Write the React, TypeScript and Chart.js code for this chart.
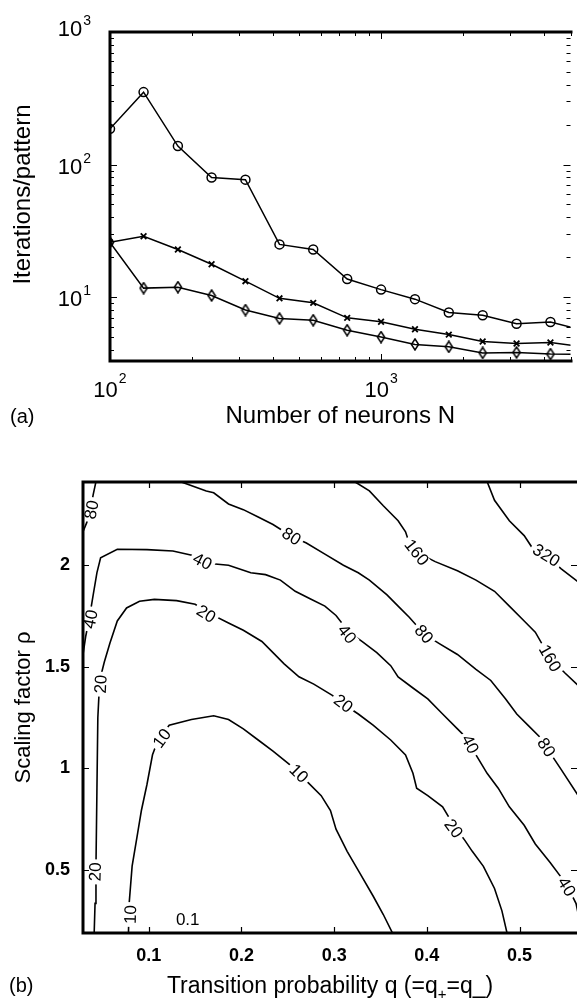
import React, { useEffect, useRef } from 'react';
import { Chart, registerables } from 'chart.js';

Chart.register(...registerables);

const FONT = "'Liberation Sans', Arial, Helvetica, sans-serif";

// ---------- Panel (a) data ----------
const neurons = [100, 133, 178, 237, 316, 422, 562, 750, 1000, 1334, 1778, 2371, 3162, 4217, 5623];
const itersCircle = [186, 352, 138, 80, 77, 25, 22.9, 13.7, 11.4, 9.66, 7.67, 7.3, 6.3, 6.5, 5.6];
const itersCross = [25.9, 28.8, 22.9, 17.7, 13.2, 9.8, 9.06, 6.98, 6.52, 5.73, 5.22, 4.63, 4.47, 4.55, 4.2];
const itersDiamond = [25.9, 11.7, 11.9, 10.3, 8.0, 6.9, 6.7, 5.63, 5.0, 4.4, 4.22, 3.8, 3.83, 3.72, 3.7];
const xPowTicks = [2, 3];
const yPowTicks = [1, 2, 3];

// ---------- Panel (b) data: contour lines as [q, rho] ----------
const contour10: [number, number][] = [
  [0.078, 0.18], [0.0788, 0.336], [0.082, 0.519], [0.088, 0.683], [0.092, 0.793], [0.098, 0.921],
  [0.104, 1.067], [0.11, 1.14], [0.122, 1.213], [0.146, 1.241], [0.17, 1.259], [0.186, 1.241],
  [0.202, 1.195], [0.218, 1.14], [0.234, 1.085], [0.254, 1.012], [0.27, 0.939], [0.286, 0.866],
  [0.296, 0.793], [0.302, 0.701], [0.314, 0.592], [0.328, 0.482], [0.342, 0.372], [0.353, 0.281],
  [0.364, 0.18],
];
const contour20: [number, number][] = [
  [0.041, 0.18], [0.042, 0.336], [0.043, 0.519], [0.044, 0.884], [0.045, 1.25], [0.047, 1.433],
  [0.052, 1.524], [0.058, 1.616], [0.066, 1.726], [0.076, 1.79], [0.09, 1.823], [0.106, 1.832],
  [0.13, 1.826], [0.15, 1.808], [0.166, 1.762], [0.186, 1.716], [0.202, 1.68], [0.222, 1.625],
  [0.234, 1.57], [0.246, 1.515], [0.262, 1.451], [0.278, 1.415], [0.298, 1.36], [0.314, 1.305],
  [0.326, 1.268], [0.342, 1.213], [0.361, 1.14], [0.377, 1.067], [0.385, 0.976], [0.389, 0.903],
  [0.401, 0.866], [0.417, 0.811], [0.429, 0.72], [0.441, 0.646], [0.449, 0.592], [0.461, 0.518],
  [0.473, 0.409], [0.481, 0.299], [0.487, 0.18],
];
const contour40: [number, number][] = [
  [0.027, 1.53], [0.029, 1.561], [0.032, 1.652], [0.036, 1.744], [0.04, 1.854], [0.044, 1.963],
  [0.048, 2.037], [0.066, 2.079], [0.098, 2.077], [0.126, 2.07], [0.15, 2.046], [0.166, 2.009],
  [0.186, 2.0], [0.198, 1.982], [0.21, 1.963], [0.226, 1.954], [0.242, 1.927], [0.258, 1.872],
  [0.274, 1.835], [0.29, 1.799], [0.302, 1.753], [0.316, 1.671], [0.33, 1.625], [0.346, 1.57],
  [0.361, 1.506], [0.369, 1.451], [0.385, 1.396], [0.401, 1.342], [0.417, 1.268], [0.433, 1.195],
  [0.445, 1.14], [0.453, 1.067], [0.465, 0.976], [0.477, 0.903], [0.489, 0.811], [0.505, 0.72],
  [0.517, 0.628], [0.533, 0.537], [0.545, 0.464], [0.555, 0.39], [0.561, 0.335], [0.566, 0.226],
];
const contour80Left: [number, number][] = [
  [0.044, 2.45], [0.043, 2.412], [0.04, 2.348], [0.037, 2.274], [0.033, 2.21], [0.029, 2.165], [0.026, 2.128],
];
const contour80: [number, number][] = [
  [0.132, 2.45], [0.134, 2.412], [0.162, 2.366], [0.17, 2.357], [0.186, 2.302], [0.202, 2.274],
  [0.218, 2.238], [0.234, 2.201], [0.254, 2.143], [0.27, 2.11], [0.29, 2.055], [0.31, 2.0],
  [0.326, 1.963], [0.338, 1.927], [0.357, 1.854], [0.369, 1.799], [0.381, 1.744], [0.397, 1.662],
  [0.413, 1.616], [0.433, 1.561], [0.453, 1.488], [0.469, 1.433], [0.485, 1.342], [0.497, 1.268],
  [0.509, 1.213], [0.521, 1.159], [0.529, 1.104], [0.545, 0.994], [0.566, 0.848],
];
const contour160: [number, number][] = [
  [0.318, 2.45], [0.322, 2.412], [0.338, 2.366], [0.353, 2.293], [0.369, 2.219], [0.377, 2.165],
  [0.381, 2.11], [0.389, 2.064], [0.409, 2.018], [0.433, 1.973], [0.453, 1.927], [0.473, 1.872],
  [0.489, 1.799], [0.505, 1.726], [0.517, 1.671], [0.533, 1.543], [0.549, 1.47], [0.566, 1.396],
];
const contour320: [number, number][] = [
  [0.463, 2.45], [0.465, 2.412], [0.473, 2.32], [0.489, 2.219], [0.505, 2.146], [0.513, 2.091],
  [0.529, 2.046], [0.545, 1.982], [0.566, 1.909],
];
// contour label: [level, q, rho]
const contourLabels: [number, number, number][] = [
  [80, 0.038, 2.274], [80, 0.254, 2.143], [80, 0.397, 1.662], [80, 0.529, 1.104],
  [160, 0.389, 2.064], [160, 0.533, 1.543],
  [320, 0.529, 2.05],
  [40, 0.037, 1.735], [40, 0.158, 2.02], [40, 0.314, 1.662], [40, 0.447, 1.12], [40, 0.551, 0.418],
  [20, 0.162, 1.762], [20, 0.048, 1.415], [20, 0.31, 1.32], [20, 0.429, 0.705], [20, 0.042, 0.491],
  [10, 0.114, 1.149], [10, 0.262, 0.976], [10, 0.08, 0.281],
];
const qTicks = [0.1, 0.2, 0.3, 0.4, 0.5];
const rhoTicks = [0.5, 1, 1.5, 2];
const annotation: [string, number, number] = ['0.1', 0.142, 0.253];

function diamondCanvas(): HTMLCanvasElement {
  const c = document.createElement('canvas');
  c.width = 10;
  c.height = 13;
  const g = c.getContext('2d')!;
  g.strokeStyle = '#000';
  g.lineWidth = 1.5;
  g.beginPath();
  g.moveTo(5, 1);
  g.lineTo(8.6, 6.5);
  g.lineTo(5, 12);
  g.lineTo(1.4, 6.5);
  g.closePath();
  g.stroke();
  return c;
}

function drawPow(ctx: CanvasRenderingContext2D, exp: string, x: number, baseY: number, align: 'center' | 'right', supDy: number) {
  ctx.font = `22px ${FONT}`;
  const w1 = ctx.measureText('10').width;
  ctx.font = `14px ${FONT}`;
  const w2 = ctx.measureText(exp).width;
  const total = w1 + 1 + w2;
  const left = align === 'center' ? x - total / 2 : x - total;
  ctx.textAlign = 'left';
  ctx.textBaseline = 'alphabetic';
  ctx.font = `22px ${FONT}`;
  ctx.fillText('10', left, baseY);
  ctx.font = `14px ${FONT}`;
  ctx.fillText(exp, left + w1 + 1, baseY - supDy);
}

const panelA = {
  id: 'panelA',
  afterDraw(chart: any) {
    const { ctx, chartArea: ca, scales } = chart;
    const xs = scales.x;
    const ys = scales.y;
    ctx.save();
    ctx.strokeStyle = '#000';
    ctx.fillStyle = '#000';
    // minor + major ticks (inward)
    ctx.lineWidth = 1;
    for (let d = 100; d <= 1000; d *= 10) {
      for (let m = 1; m <= 9; m++) {
        const v = d * m;
        if (v < 100 || v > 5000) continue;
        const px = Math.round(xs.getPixelForValue(v)) + 0.5;
        const len = m === 1 ? 7 : 4;
        ctx.beginPath();
        ctx.moveTo(px, ca.bottom);
        ctx.lineTo(px, ca.bottom - len);
        ctx.moveTo(px, ca.top);
        ctx.lineTo(px, ca.top + len);
        ctx.stroke();
      }
    }
    for (let d = 1; d <= 1000; d *= 10) {
      for (let m = 1; m <= 9; m++) {
        const v = d * m;
        if (v < 3.3 || v > 1000) continue;
        const py = Math.round(ys.getPixelForValue(v)) + 0.5;
        const len = m === 1 ? 7 : 4;
        ctx.beginPath();
        ctx.moveTo(ca.left, py);
        ctx.lineTo(ca.left + len, py);
        ctx.moveTo(ca.right, py);
        ctx.lineTo(ca.right - len, py);
        ctx.stroke();
      }
    }
    // frame
    ctx.lineWidth = 3;
    ctx.beginPath();
    ctx.moveTo(ca.right + 2, ca.top);
    ctx.lineTo(ca.left, ca.top);
    ctx.lineTo(ca.left, ca.bottom);
    ctx.lineTo(ca.right + 2, ca.bottom);
    ctx.stroke();
    // tick labels
    for (const p of xPowTicks) {
      const px = xs.getPixelForValue(Math.pow(10, p));
      drawPow(ctx, String(p), px, ca.bottom + 36, 'center', 14);
    }
    for (const p of yPowTicks) {
      const py = ys.getPixelForValue(Math.pow(10, p));
      const shift = p === 3 ? -5 : 0;
      drawPow(ctx, String(p), ca.left - 19, py + 9 + shift, 'right', 11);
    }
    // axis titles
    ctx.font = `24px ${FONT}`;
    ctx.textAlign = 'center';
    ctx.textBaseline = 'alphabetic';
    ctx.fillText('Number of neurons N', (ca.left + ca.right) / 2, 423);
    ctx.save();
    ctx.translate(30, (ca.top + ca.bottom) / 2 - 2);
    ctx.rotate(-Math.PI / 2);
    ctx.fillText('Iterations/pattern', 0, 0);
    ctx.restore();
    ctx.font = `20px ${FONT}`;
    ctx.textAlign = 'left';
    ctx.fillText('(a)', 10, 423);
    ctx.restore();
  },
};

function segAngle(pts: { x: number; y: number }[], px: number, py: number) {
  let best = Infinity;
  let ang = 0;
  for (let i = 0; i < pts.length - 1; i++) {
    const a = pts[i];
    const b = pts[i + 1];
    const dx = b.x - a.x;
    const dy = b.y - a.y;
    const len2 = dx * dx + dy * dy || 1;
    let t = ((px - a.x) * dx + (py - a.y) * dy) / len2;
    t = Math.max(0, Math.min(1, t));
    const cx = a.x + t * dx;
    const cy = a.y + t * dy;
    const d = (px - cx) ** 2 + (py - cy) ** 2;
    if (d < best) {
      best = d;
      ang = Math.atan2(dy, dx);
    }
  }
  if (ang > Math.PI / 2) ang -= Math.PI;
  if (ang < -Math.PI / 2) ang += Math.PI;
  return { ang, dist: best };
}

const panelB = {
  id: 'panelB',
  afterDraw(chart: any) {
    const { ctx, chartArea: ca, scales } = chart;
    const xs = scales.x;
    const ys = scales.y;
    ctx.save();
    // contour labels
    ctx.save();
    ctx.beginPath();
    ctx.rect(ca.left, ca.top, ca.right - ca.left, ca.bottom - ca.top);
    ctx.clip();
    for (const [lvl, q, r] of contourLabels) {
      const px = xs.getPixelForValue(q);
      const py = ys.getPixelForValue(r);
      let ang = 0;
      let best = Infinity;
      chart.data.datasets.forEach((ds: any, i: number) => {
        if (ds.level !== lvl) return;
        const pts = chart.getDatasetMeta(i).data.map((e: any) => ({ x: e.x, y: e.y }));
        const res = segAngle(pts, px, py);
        if (res.dist < best) {
          best = res.dist;
          ang = res.ang;
        }
      });
      const txt = String(lvl);
      ctx.font = `17px ${FONT}`;
      const w = ctx.measureText(txt).width;
      ctx.save();
      ctx.translate(px, py);
      ctx.rotate(ang);
      ctx.fillStyle = '#fff';
      ctx.fillRect(-w / 2 - 3, -6, w + 6, 12);
      ctx.fillStyle = '#000';
      ctx.textAlign = 'center';
      ctx.textBaseline = 'middle';
      ctx.fillText(txt, 0, 1);
      ctx.restore();
    }
    // annotation
    ctx.font = `17px ${FONT}`;
    ctx.fillStyle = '#000';
    ctx.textAlign = 'center';
    ctx.textBaseline = 'middle';
    ctx.fillText(annotation[0], xs.getPixelForValue(annotation[1]), ys.getPixelForValue(annotation[2]));
    ctx.restore();

    // ticks
    ctx.strokeStyle = '#000';
    ctx.fillStyle = '#000';
    ctx.lineWidth = 1.2;
    for (const q of qTicks) {
      const px = Math.round(xs.getPixelForValue(q)) + 0.5;
      ctx.beginPath();
      ctx.moveTo(px, ca.bottom);
      ctx.lineTo(px, ca.bottom - 6);
      ctx.moveTo(px, ca.top);
      ctx.lineTo(px, ca.top + 6);
      ctx.stroke();
    }
    for (const r of rhoTicks) {
      const py = Math.round(ys.getPixelForValue(r)) + 0.5;
      ctx.beginPath();
      ctx.moveTo(ca.left, py);
      ctx.lineTo(ca.left + 6, py);
      ctx.moveTo(ca.right, py);
      ctx.lineTo(ca.right - 6, py);
      ctx.stroke();
    }
    // frame
    ctx.lineWidth = 3;
    ctx.beginPath();
    ctx.moveTo(ca.right + 2, ca.top);
    ctx.lineTo(ca.left, ca.top);
    ctx.lineTo(ca.left, ca.bottom);
    ctx.lineTo(ca.right + 2, ca.bottom);
    ctx.stroke();
    // tick labels
    ctx.font = `bold 18px ${FONT}`;
    ctx.textAlign = 'center';
    ctx.textBaseline = 'middle';
    for (const q of qTicks) {
      ctx.fillText(String(q), xs.getPixelForValue(q), ca.bottom + 23);
    }
    ctx.textAlign = 'right';
    for (const r of rhoTicks) {
      ctx.fillText(String(r), ca.left - 13, ys.getPixelForValue(r));
    }
    // y title
    ctx.font = `22px ${FONT}`;
    ctx.textAlign = 'center';
    ctx.textBaseline = 'alphabetic';
    ctx.save();
    ctx.translate(30, (ca.top + ca.bottom) / 2);
    ctx.rotate(-Math.PI / 2);
    ctx.fillText('Scaling factor \u03c1', 0, 0);
    ctx.restore();
    // x title with subscript
    const parts: [string, number, number][] = [
      ['Transition probability q (=q', 23, 0],
      ['+', 15, 6],
      ['=q_)', 23, 0],
    ];
    let total = 0;
    for (const [t, s] of parts) {
      ctx.font = `${s}px ${FONT}`;
      total += ctx.measureText(t).width;
    }
    let x0 = (ca.left + ca.right) / 2 - total / 2;
    const base = 553;
    ctx.textAlign = 'left';
    for (const [t, s, dy] of parts) {
      ctx.font = `${s}px ${FONT}`;
      ctx.fillText(t, x0, base + dy);
      x0 += ctx.measureText(t).width;
    }
    ctx.font = `20px ${FONT}`;
    ctx.fillText('(b)', 9, 552);
    ctx.restore();
  },
};

export default function App() {
  const refA = useRef<HTMLCanvasElement>(null);
  const refB = useRef<HTMLCanvasElement>(null);

  useEffect(() => {
    const diamond = diamondCanvas();
    const line = (vals: number[], style: any, radius: number, pbw: number) => ({
      data: neurons.map((n, i) => ({ x: n, y: vals[i] })),
      borderColor: '#000',
      borderWidth: 1.5,
      pointStyle: style,
      pointRadius: radius,
      pointBorderWidth: pbw,
      pointBorderColor: '#000',
      pointBackgroundColor: 'rgba(0,0,0,0)',
      tension: 0,
      fill: false,
    });
    const chartA = new Chart(refA.current!, {
      type: 'line',
      data: {
        datasets: [
          line(itersCircle, 'circle', 4.5, 1.5),
          line(itersCross, 'crossRot', 4, 1.8),
          line(itersDiamond, diamond, 5, 1.5),
        ] as any,
      },
      options: {
        animation: false,
        responsive: false,
        devicePixelRatio: 1,
        events: [],
        layout: { padding: { left: 110, top: 32, right: 0, bottom: 79 } },
        plugins: { legend: { display: false }, tooltip: { enabled: false } },
        scales: {
          x: { type: 'logarithmic', min: 100, max: 5000, display: false },
          y: { type: 'logarithmic', min: 3.3, max: 1000, display: false },
        },
      } as any,
      plugins: [panelA],
    });

    const contours: [number, [number, number][]][] = [
      [10, contour10],
      [20, contour20],
      [40, contour40],
      [80, contour80Left],
      [80, contour80],
      [160, contour160],
      [320, contour320],
    ];
    const chartB = new Chart(refB.current!, {
      type: 'scatter',
      data: {
        datasets: contours.map(([lvl, pts]) => ({
          level: lvl,
          data: pts.map(([q, r]) => ({ x: q, y: r })),
          showLine: true,
          borderColor: '#000',
          borderWidth: 1.6,
          pointRadius: 0,
          tension: 0,
        })) as any,
      },
      options: {
        animation: false,
        responsive: false,
        devicePixelRatio: 1,
        events: [],
        layout: { padding: { left: 83, top: 42, right: 0, bottom: 74 } },
        plugins: { legend: { display: false }, tooltip: { enabled: false } },
        scales: {
          x: { type: 'linear', min: 0.029, max: 0.562, display: false },
          y: { type: 'linear', min: 0.19, max: 2.41, display: false },
        },
      } as any,
      plugins: [panelB],
    });
    return () => {
      chartA.destroy();
      chartB.destroy();
    };
  }, []);

  return (
    <div style={{ position: 'absolute', left: 0, top: 0, width: 577, height: 1007, background: '#fff', overflow: 'hidden' }}>
      <canvas ref={refA} width={577} height={440} style={{ position: 'absolute', left: 0, top: 0 }} />
      <canvas ref={refB} width={577} height={567} style={{ position: 'absolute', left: 0, top: 440 }} />
    </div>
  );
}
